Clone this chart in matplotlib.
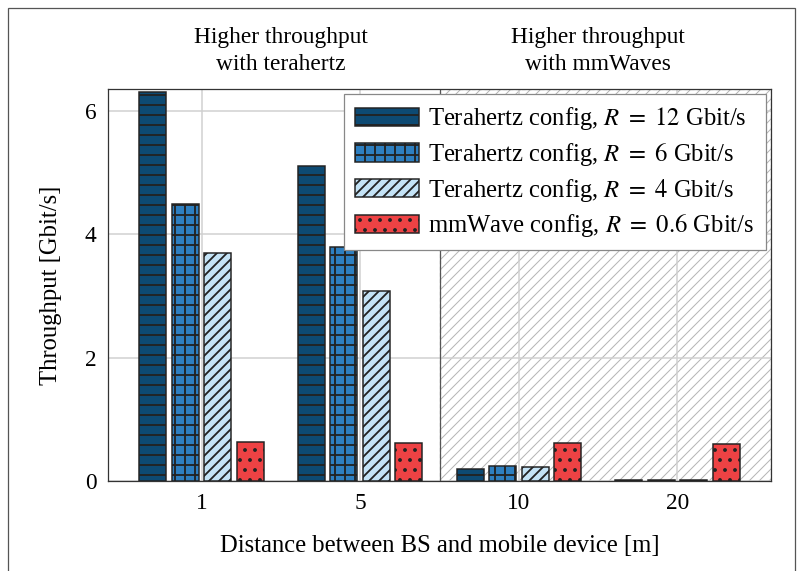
import matplotlib
matplotlib.use("Agg")
import matplotlib.pyplot as plt
import numpy as np
from matplotlib.patches import Rectangle
import matplotlib.transforms as mtransforms

# ---- data ----
distances = ["1", "5", "10", "20"]
series_labels = [
    "Terahertz config, $R\\ =\\ 12$ Gbit/s",
    "Terahertz config, $R\\ =\\ 6$ Gbit/s",
    "Terahertz config, $R\\ =\\ 4$ Gbit/s",
    "mmWave config, $R\\ =\\ 0.6$ Gbit/s",
]
thz_12 = [6.30, 5.10, 0.19, 0.01]
thz_6 = [4.49, 3.79, 0.25, 0.01]
thz_4 = [3.69, 3.07, 0.23, 0.01]
mmw_06 = [0.63, 0.62, 0.62, 0.60]
yticks = [0, 2, 4, 6]
annot_left = "Higher throughput\nwith terahertz"
annot_right = "Higher throughput\nwith mmWaves"
xlabel = "Distance between BS and mobile device [m]"
ylabel = "Throughput [Gbit/s]"

colors = ["#0d4a73", "#2e7fc0", "#c4e3f6", "#ee4244"]
hatches = ["-", "+", "//", "."]

DPI = 60
W, H = 802, 571
plt.rcParams["font.family"] = ["Liberation Serif", "DejaVu Serif"]
plt.rcParams["mathtext.fontset"] = "stix"
plt.rcParams["hatch.linewidth"] = 2.2
FS = 29.5

fig = plt.figure(figsize=(W / DPI, H / DPI), dpi=DPI)
ax = fig.add_axes([108 / W, 1 - 481 / H, (771 - 108) / W, (481 - 89) / H])

x = np.arange(len(distances))
width = 0.17
step = 0.205
all_series = [thz_12, thz_6, thz_4, mmw_06]
for i, vals in enumerate(all_series):
    off = (i - 1.5) * step
    ax.bar(x + off, vals, width=width, color=colors[i], edgecolor="#222222",
           linewidth=1.8, hatch=hatches[i], label=series_labels[i], zorder=3)

ax.set_xlim(-0.59, 3.59)
ax.set_ylim(0, 6.35)
ax.set_xticks(x)
ax.set_xticklabels(distances)
ax.set_yticks(yticks)
ax.tick_params(axis="both", labelsize=28, direction="in", length=0, pad=14)
ax.set_axisbelow(True)
ax.grid(True, color="#d0d0d0", linewidth=1.8)
for sp in ax.spines.values():
    sp.set_color("#333333")
    sp.set_linewidth(1.5)

# shaded region
trans = mtransforms.blended_transform_factory(ax.transData, ax.transAxes)
rect = Rectangle((1.5, 0), 3.59 - 1.5, 1, transform=trans, facecolor="none",
                 edgecolor="#b5b5b5", hatch="//", linestyle=(0, (3, 2)),
                 linewidth=1.5, zorder=0.4)
if hasattr(rect, "set_hatch_linewidth"):
    rect.set_hatch_linewidth(1.2)
ax.add_patch(rect)
ax.axvline(1.5, color="#555555", linewidth=1.5, zorder=2)

ax.set_xlabel(xlabel, fontsize=FS, labelpad=25)
ax.set_ylabel(ylabel, fontsize=FS, labelpad=27)

ttrans = mtransforms.blended_transform_factory(ax.transData, fig.transFigure)
ax.text(0.5, 1 - 51 / H, annot_left, transform=ttrans, ha="center", va="center",
        fontsize=28, linespacing=1.32)
ax.text(2.5, 1 - 51 / H, annot_right, transform=ttrans, ha="center", va="center",
        fontsize=28, linespacing=1.32)

leg = ax.legend(loc="upper right", fontsize=FS, fancybox=False, framealpha=1,
                edgecolor="#888888", handlelength=2.6, handleheight=0.75,
                handletextpad=0.4, labelspacing=0.35, borderaxespad=0.22,
                borderpad=0.45)
leg.get_frame().set_linewidth(1.5)

# outer border
fig.patches.append(Rectangle((8 / W, -0.02), (795 - 8) / W, 1.02 - 8 / H,
                             transform=fig.transFigure, fill=False,
                             edgecolor="#555555", linewidth=1.5))

fig.savefig("out.png", dpi=DPI)
